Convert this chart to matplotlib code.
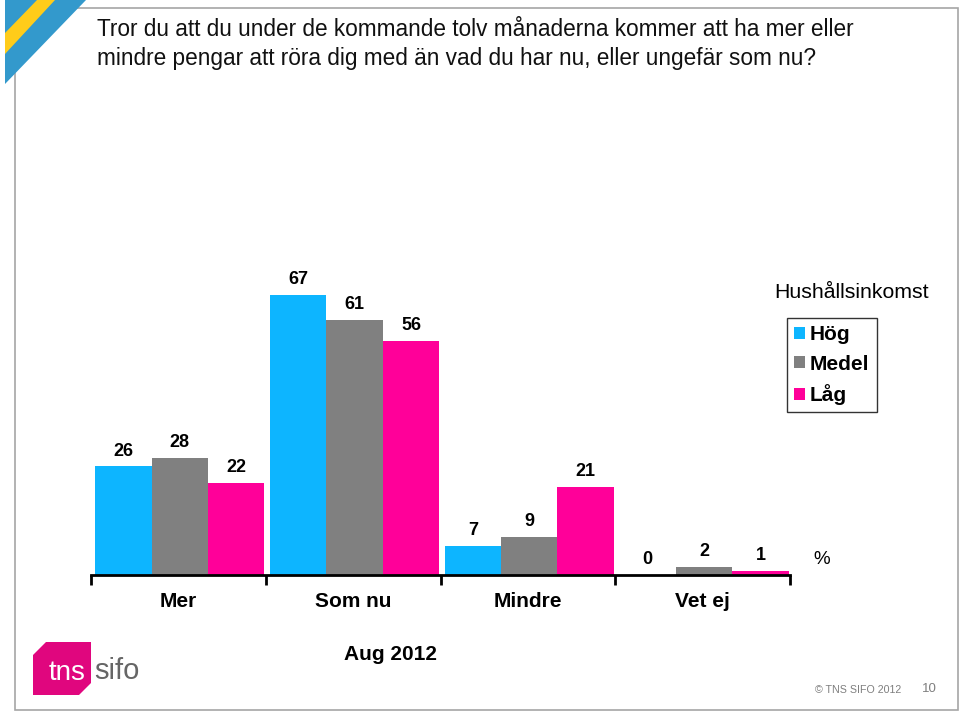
import matplotlib
matplotlib.use("Agg")
import matplotlib.pyplot as plt
from matplotlib.patches import Polygon, Rectangle, Patch

plt.rcParams['font.family'] = ['Liberation Sans', 'DejaVu Sans']

categories = ["Mer", "Som nu", "Mindre", "Vet ej"]
series_names = ["Hög", "Medel", "Låg"]
hog = [26, 67, 7, 0]
medel = [28, 61, 9, 2]
lag = [22, 56, 21, 1]
colors = ["#0DB5FF", "#808080", "#FF0099"]

title_lines = ["Tror du att du under de kommande tolv månaderna kommer att ha mer eller",
               "mindre pengar att röra dig med än vad du har nu, eller ungefär som nu?"]
legend_title = "Hushållsinkomst"
period = "Aug 2012"

W, H = 961, 713
fig = plt.figure(figsize=(W / 100, H / 100), dpi=100)

def fx(px):
    return px / W

def fy(py):
    return 1 - py / H

# slide frame
fig.patches.append(Rectangle((fx(15), fy(710)), fx(958) - fx(15), fy(8) - fy(710),
                             transform=fig.transFigure, fill=False,
                             edgecolor="#A6A6A6", linewidth=1.2))
# corner decoration
fig.patches.append(Polygon([(fx(5), fy(0)), (fx(86), fy(0)), (fx(5), fy(84))],
                           closed=True, transform=fig.transFigure,
                           facecolor="#3399CC", edgecolor="none"))
fig.patches.append(Polygon([(fx(37), fy(0)), (fx(55), fy(0)), (fx(5), fy(54)), (fx(5), fy(33))],
                           closed=True, transform=fig.transFigure,
                           facecolor="#FFCC1A", edgecolor="none"))

# title
fig.text(fx(97), fy(29), title_lines[0], fontsize=16.3, va="center", ha="left", color="#111111")
fig.text(fx(97), fy(58), title_lines[1], fontsize=16.3, va="center", ha="left", color="#111111")

# axes
ax = fig.add_axes([fx(91), fy(575), fx(790) - fx(91), fy(241) - fy(575)])
ax.set_xlim(-0.5, 3.5)
ax.set_ylim(0, 80)

series = [hog, medel, lag]
bw = 0.323
x = list(range(len(categories)))
for i, (vals, col) in enumerate(zip(series, colors)):
    xs = [xi + (i - 1) * bw + 0.008 for xi in x]
    bars = ax.bar(xs, vals, width=bw, color=col, edgecolor="none")
    for b, v in zip(bars, vals):
        ax.annotate(f"{v}", (b.get_x() + b.get_width() / 2, b.get_height()),
                    xytext=(0, 5), textcoords="offset points",
                    ha="center", va="bottom", fontsize=13, fontweight="bold")

for s in ["left", "right", "top"]:
    ax.spines[s].set_visible(False)
ax.spines["bottom"].set_linewidth(2)
ax.set_yticks([])
ax.set_xticks([-0.5, 0.5, 1.5, 2.5, 3.5])
ax.set_xticklabels([])
ax.tick_params(axis="x", which="major", direction="out", length=7, width=2)
ax.set_xticks(x, minor=True)
ax.set_xticklabels(categories, minor=True, fontsize=15, fontweight="bold")
ax.tick_params(axis="x", which="minor", length=0, pad=12)
ax.patch.set_alpha(0)

fig.text(fx(822), fy(560), "%", fontsize=13.5, ha="center", va="center")
fig.text(fx(391), fy(655), period, fontsize=15, fontweight="bold", ha="center", va="center")

# legend
fig.text(fx(852), fy(293), legend_title, fontsize=15.3, ha="center", va="center")
handles = [Patch(facecolor=c, edgecolor="none") for c in colors]
leg = fig.legend(handles, series_names, loc="upper left",
                 bbox_to_anchor=(fx(787), fy(318)), bbox_transform=fig.transFigure,
                 borderaxespad=0, frameon=True, fancybox=False,
                 handlelength=0.5, handleheight=0.5, handletextpad=0.25,
                 labelspacing=0.5, borderpad=0.35,
                 prop={"size": 15, "weight": "bold"})
leg.get_frame().set_edgecolor("black")
leg.get_frame().set_linewidth(1)

# logo
fig.patches.append(Polygon([(fx(33), fy(655)), (fx(46), fy(642)), (fx(91), fy(642)),
                            (fx(91), fy(683)), (fx(79), fy(695)), (fx(33), fy(695))],
                           closed=True, transform=fig.transFigure,
                           facecolor="#E0067E", edgecolor="none"))
fig.text(fx(67), fy(673), "tns", fontsize=20, color="white", ha="center", va="center")
fig.text(fx(94), fy(671), "sifo", fontsize=21, color="#666666", ha="left", va="center")

fig.text(fx(858), fy(690), "© TNS SIFO 2012", fontsize=7.7, color="#7F7F7F", ha="center", va="center")
fig.text(fx(929), fy(689), "10", fontsize=9.5, color="#7F7F7F", ha="center", va="center")

fig.savefig("out.png", dpi=100)
